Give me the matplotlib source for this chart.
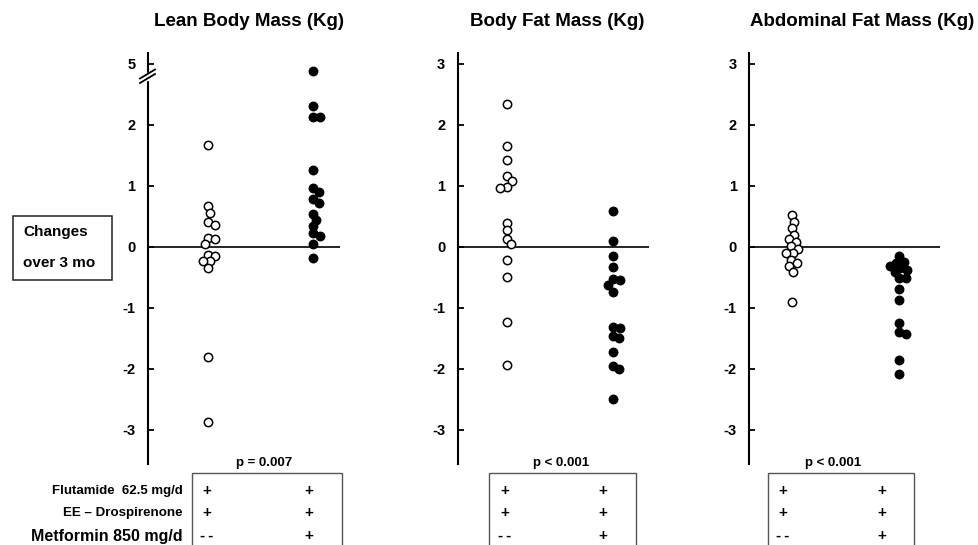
import numpy as np
import matplotlib.pyplot as plt
from matplotlib.patches import Rectangle
from matplotlib.lines import Line2D

plt.rcParams['font.family'] = ['Liberation Sans', 'DejaVu Sans']
plt.rcParams['font.weight'] = 'bold'

# cambios a 3 meses (Kg), lectura del gráfico
titles = ['Lean Body Mass (Kg)', 'Body Fat Mass (Kg)', 'Abdominal Fat Mass (Kg)']
lean_open = [1.66, 0.66, 0.55, 0.40, 0.36, 0.15, 0.13, 0.05, -0.13, -0.15, -0.24, -0.24, -0.35, -1.81, -2.87]
lean_fill = [4.5, 2.30, 2.13, 2.13, 1.25, 0.96, 0.90, 0.78, 0.72, 0.54, 0.44, 0.34, 0.22, 0.18, 0.04, -0.19]
fat_open = [2.34, 1.65, 1.42, 1.16, 1.08, 0.98, 0.97, 0.39, 0.27, 0.13, 0.04, -0.22, -0.50, -1.23, -1.94]
fat_fill = [0.59, 0.09, -0.16, -0.33, -0.53, -0.55, -0.62, -0.75, -1.32, -1.34, -1.46, -1.49, -1.72, -1.96, -2.01, -2.50]
abd_open = [0.52, 0.41, 0.30, 0.19, 0.12, 0.08, 0.01, -0.03, -0.10, -0.11, -0.21, -0.26, -0.32, -0.41, -0.90]
abd_fill = [-0.16, -0.25, -0.26, -0.32, -0.35, -0.39, -0.42, -0.52, -0.52, -0.69, -0.87, -1.25, -1.40, -1.43, -1.86, -2.08]
p_values = ['p = 0.007', 'p < 0.001', 'p < 0.001']
yticks = [-3, -2, -1, 0, 1, 2, 3]
lean_yticks = [-3, -2, -1, 0, 1, 2, 5]
treat_labels = ['Flutamide  62.5 mg/d', 'EE \u2013 Drospirenone', 'Metformin 850 mg/d']
treat_marks = [['+', '+'], ['+', '+'], ['-\u2009-', '+']]

W, H = 979, 545
PPU = 61.0       # pixeles por unidad en y
Y0 = 246.7       # pixel del cero
AX_TOP, AX_BOT = 53, 464


def fx(x):
    return x / W


def fy(y):
    return 1 - y / H


def broken(v):
    # eje cortado: 4..5 se dibuja entre 2.75 y 3
    v = np.asarray(v, dtype=float)
    return np.where(v > 3, 2.75 + (v - 4) * 0.25, v)


def swarm(vals_px, d):
    placed = []
    out = []
    for v in vals_px:
        cands = [0.0]
        for (cx, cy) in placed:
            dy = v - cy
            if abs(dy) < d:
                dx = np.sqrt(d * d - dy * dy)
                cands += [cx + dx, cx - dx]
        cands.sort(key=abs)
        best = cands[-1]
        for c in cands:
            if all((c - cx) ** 2 + (v - cy) ** 2 >= d * d - 1e-6 for cx, cy in placed):
                best = c
                break
        placed.append((best, v))
        out.append(best)
    return np.array(out)


fig = plt.figure(figsize=(9.79, 5.45), dpi=100)

# (spine, fin de linea cero, centro abiertos, centro llenos)
panels = [(148, 340, 208, 313), (457.7, 649, 507, 612.7), (749.3, 940, 792.5, 899.5)]
groups = [(lean_open, lean_fill), (fat_open, fat_fill), (abd_open, abd_fill)]
title_x = [249, 557, 862]

ylo = (Y0 - AX_BOT) / PPU
yhi = (Y0 - AX_TOP) / PPU

for i, (left, right, xo, xf) in enumerate(panels):
    ax = fig.add_axes([fx(left), fy(AX_BOT), fx(right - left), (AX_BOT - AX_TOP) / H])
    ax.set_xlim(0, right - left)
    ax.set_ylim(ylo, yhi)
    ax.patch.set_alpha(0)
    for s in ['top', 'right', 'bottom']:
        ax.spines[s].set_visible(False)
    ax.spines['left'].set_linewidth(1.5)
    ax.set_xticks([])
    ax.axhline(0, color='black', lw=1.2)

    op, fl = groups[i]
    if i == 0:
        op_y, fl_y = broken(op), broken(fl)
        ax.set_yticks(broken(lean_yticks))
        ax.set_yticklabels([str(t) for t in lean_yticks])
    else:
        op_y, fl_y = np.array(op), np.array(fl)
        ax.set_yticks(yticks)
        ax.set_yticklabels([str(t) for t in yticks])
    ax.tick_params(axis='y', direction='in', length=4, width=1.3, pad=9, labelsize=10.5)

    ox = xo - left + swarm(op_y * PPU, 7.0)
    fxx = xf - left + swarm(fl_y * PPU, 7.0)
    ax.scatter(ox, op_y, s=36, facecolors='white', edgecolors='black', linewidths=1.1, zorder=3, clip_on=False)
    ax.scatter(fxx, fl_y, s=36, facecolors='black', edgecolors='black', linewidths=1.1, zorder=3, clip_on=False)

    if i == 0:
        # marca de corte del eje
        for off in [0, 4.5]:
            y1 = (Y0 - (83 - off)) / PPU
            y2 = (Y0 - (74 - off)) / PPU
            ax.add_line(Line2D([-8, 7], [y1, y2], color='black', lw=1.3, clip_on=False, zorder=4))
        yg1 = (Y0 - 79) / PPU
        yg2 = (Y0 - 74.5) / PPU
        ax.add_line(Line2D([0, 0], [yg1, yg2], color='white', lw=2.5, clip_on=False, zorder=3.5))

    fig.text(fx(title_x[i]), fy(21), titles[i], ha='center', va='center', fontsize=13.5,
             family=['Liberation Sans Narrow', 'Liberation Sans', 'DejaVu Sans'], fontweight='bold')

# cuadro "Changes over 3 mo"
fig.add_artist(Rectangle((fx(13), fy(280)), fx(112 - 13), (280 - 216) / H, transform=fig.transFigure,
                         facecolor='white', edgecolor='#222222', lw=1.1))
fig.text(fx(23), fy(232), 'Changes', ha='left', va='center', fontsize=11)
fig.text(fx(23), fy(263), 'over 3 mo', ha='left', va='center', fontsize=11)

# tabla de tratamientos
boxes = [(192, 342, 264, 206.7, 309), (489.3, 636, 560.7, 505, 603.3), (768.3, 914, 833, 782.7, 881.7)]
row_y = [490.7, 512.7, 536]
for i, (bl, br, pc, c1, c2) in enumerate(boxes):
    fig.add_artist(Rectangle((fx(bl), fy(560)), fx(br - bl), (560 - 473.3) / H, transform=fig.transFigure,
                             facecolor='none', edgecolor='#555555', lw=1))
    fig.text(fx(pc), fy(463), p_values[i], ha='center', va='center', fontsize=9.5)
    for r, ry in enumerate(row_y):
        for c, cx in enumerate([c1, c2]):
            fig.text(fx(cx), fy(ry), treat_marks[r][c], ha='center', va='center', fontsize=11)

label_sizes = [9.5, 9.6, 11.5]
for r, ry in enumerate(row_y):
    fig.text(fx(183), fy(ry), treat_labels[r], ha='right', va='center', fontsize=label_sizes[r])

plt.savefig('out.png', dpi=100)
